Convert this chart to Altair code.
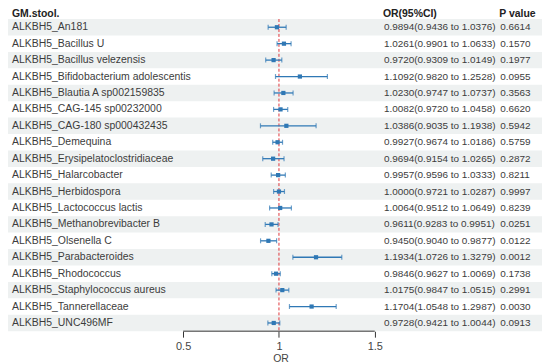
import altair as alt
import pandas as pd

labels = [
    "ALKBH5_An181", "ALKBH5_Bacillus U", "ALKBH5_Bacillus velezensis",
    "ALKBH5_Bifidobacterium adolescentis", "ALKBH5_Blautia A sp002159835",
    "ALKBH5_CAG-145 sp00232000", "ALKBH5_CAG-180 sp000432435",
    "ALKBH5_Demequina", "ALKBH5_Erysipelatoclostridiaceae", "ALKBH5_Halarcobacter",
    "ALKBH5_Herbidospora", "ALKBH5_Lactococcus lactis", "ALKBH5_Methanobrevibacter B",
    "ALKBH5_Olsenella C", "ALKBH5_Parabacteroides", "ALKBH5_Rhodococcus",
    "ALKBH5_Staphylococcus aureus", "ALKBH5_Tannerellaceae", "ALKBH5_UNC496MF",
]
odds = [0.9894, 1.0261, 0.9720, 1.1092, 1.0230, 1.0082, 1.0386, 0.9927, 0.9694, 0.9957,
        1.0000, 1.0064, 0.9611, 0.9450, 1.1934, 0.9846, 1.0175, 1.1704, 0.9728]
lower = [0.9436, 0.9901, 0.9309, 0.9820, 0.9747, 0.9720, 0.9035, 0.9674, 0.9154, 0.9596,
         0.9721, 0.9512, 0.9283, 0.9040, 1.0726, 0.9627, 0.9847, 1.0548, 0.9421]
upper = [1.0376, 1.0633, 1.0149, 1.2528, 1.0737, 1.0458, 1.1938, 1.0186, 1.0265, 1.0333,
         1.0287, 1.0649, 0.9951, 0.9877, 1.3279, 1.0069, 1.0515, 1.2987, 1.0044]
pvals = ["0.6614", "0.1570", "0.1977", "0.0955", "0.3563", "0.6620", "0.5942", "0.5759",
         "0.2872", "0.8211", "0.9997", "0.8239", "0.0251", "0.0122", "0.0012", "0.1738",
         "0.2991", "0.0030", "0.0913"]
headers = ["GM.stool.", "OR(95%CI)", "P value"]
axis_ticks = [0.5, 1.0, 1.5]

W = 537
X_MIN, X_MAX = -0.414, 2.3727
Y_TOP, Y_BOT = -0.05, 19.5
ROW_PX = 16.5
H = round((Y_BOT - Y_TOP) * ROW_PX)

n = len(labels)
rows = list(range(1, n + 1))
df = pd.DataFrame({
    "row": rows, "label": labels, "or": odds, "lo": lower, "hi": upper, "p": pvals,
})
df["ci"] = [f"{o:.4f}({l:.4f} to {h:.4f})" for o, l, h in zip(odds, lower, upper)]

stripe_df = pd.DataFrame({
    "r0": [r - 0.5 for r in rows if r % 2 == 1],
    "r1": [r + 0.5 for r in rows if r % 2 == 1],
    "x0": X_MIN, "x1": X_MAX,
})

xs = alt.Scale(domain=[X_MIN, X_MAX], nice=False, zero=False)
ys = alt.Scale(domain=[Y_TOP, Y_BOT], reverse=True, nice=False, zero=False)

FONT = "Liberation Sans"
TXT = "#3c3c3c"
BLUE = "#2f78b5"

xaxis = alt.Axis(values=axis_ticks, domain=False, grid=False, tickColor="#333",
                 tickSize=6, labelFont=FONT, labelFontSize=11, labelColor="#444",
                 labelPadding=3, format="~g", title="OR", titleFont=FONT,
                 titleFontSize=10.5, titleFontWeight="normal", titleColor="#444",
                 titleX=274, titlePadding=2)

stripes = alt.Chart(stripe_df).mark_rect(color="#eef1f1").encode(
    x=alt.X("x0:Q", scale=xs, axis=xaxis), x2="x1:Q",
    y=alt.Y("r0:Q", scale=ys, axis=None), y2="r1:Q",
)

base = alt.Chart(df)

ref = alt.Chart(pd.DataFrame({"v": [1.0], "a": [0.5], "b": [Y_BOT]})).mark_rule(
    color="#e0353a", strokeDash=[3, 2], strokeWidth=1
).encode(x=alt.X("v:Q"), y=alt.Y("a:Q"), y2="b:Q")

bars = base.mark_rule(color=BLUE, strokeWidth=1.3).encode(
    x=alt.X("lo:Q"), x2="hi:Q", y=alt.Y("row:Q"))
caps_lo = base.mark_tick(color=BLUE, orient="vertical", size=5, thickness=1.2).encode(
    x=alt.X("lo:Q"), y=alt.Y("row:Q"))
caps_hi = base.mark_tick(color=BLUE, orient="vertical", size=5, thickness=1.2).encode(
    x=alt.X("hi:Q"), y=alt.Y("row:Q"))
pts = base.mark_square(color=BLUE, size=18, opacity=1).encode(
    x=alt.X("or:Q"), y=alt.Y("row:Q"))

axis_line = alt.Chart(pd.DataFrame({"a": [axis_ticks[0]], "b": [axis_ticks[-1]], "y": [Y_BOT]})).mark_rule(
    color="#333", strokeWidth=1).encode(x=alt.X("a:Q"), x2="b:Q", y=alt.Y("y:Q"))

def col(field, xpos, size):
    return base.mark_text(align="left", baseline="middle", font=FONT, fontSize=size, color=TXT).encode(
        x=alt.value(xpos), y=alt.Y("row:Q"), text=alt.Text(f"{field}:N"))

lab = col("label", 4, 10.5)
ci = col("ci", 378, 10)
pv = col("p", 495, 10)

hdr_layers = []
for t, xpos in zip(headers, [4, 377, 494]):
    hdr_layers.append(
        alt.Chart(pd.DataFrame({"t": [t], "y": [0.2]})).mark_text(
            align="left", baseline="middle", font=FONT, fontSize=10.5,
            fontWeight="bold", color="#222").encode(
            x=alt.value(xpos), y=alt.Y("y:Q"), text=alt.Text("t:N"))
    )

chart = alt.layer(stripes, ref, bars, caps_lo, caps_hi, pts, axis_line, lab, ci, pv, *hdr_layers).properties(
    width=W, height=H, padding={"left": 0, "top": 0, "right": 0, "bottom": 0},
    background="white"
).configure_view(stroke=None)

chart.save("out.html", embed_options={"renderer": "svg", "actions": False})
